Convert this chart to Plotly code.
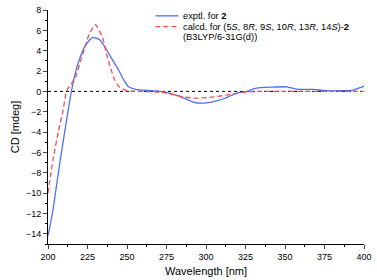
import plotly.graph_objects as go

exp_x = [200, 203, 206, 209, 212, 214.8, 217, 220, 224, 228.3, 232.5, 235, 238.7, 242, 245, 248, 251, 255.4, 260, 268, 275, 282.5, 288, 293, 297, 301, 306, 311.7, 316, 320, 326, 330, 334.6, 342, 351, 357.5, 363, 368, 376, 384.5, 393, 399, 400]
exp_y = [-14.2, -11.8, -8.6, -5.5, -2.6, 0.0, 1.6, 3.2, 4.6, 5.3, 5.1, 4.6, 3.65, 2.8, 2.0, 1.1, 0.45, 0.2, 0.12, 0.05, -0.1, -0.45, -0.8, -1.1, -1.15, -1.1, -0.95, -0.7, -0.4, -0.15, 0.0, 0.25, 0.38, 0.42, 0.45, 0.22, 0.2, 0.19, 0.07, 0.07, 0.13, 0.45, 0.5]

calc_x = [200, 203.3, 206.5, 209.6, 211.7, 214, 217, 222, 226, 230, 234.6, 237, 239.8, 242, 245, 250.2, 257.5, 265, 272, 280.4, 286, 293, 301, 307, 313.75, 319, 324, 330, 340, 350, 360, 370, 380, 390, 400]
calc_y = [-10.0, -6.6, -4.0, -1.8, 0.0, 0.6, 1.25, 3.65, 5.6, 6.55, 5.25, 3.7, 2.2, 1.2, 0.45, 0.05, 0.0, -0.02, -0.1, -0.35, -0.55, -0.67, -0.6, -0.5, -0.35, -0.2, -0.1, -0.02, 0.0, 0.0, 0.0, 0.0, 0.0, 0.0, 0.0]

x_ticks = [200, 225, 250, 275, 300, 325, 350, 375, 400]
y_ticks = [-14, -12, -10, -8, -6, -4, -2, 0, 2, 4, 6, 8]

legend_texts = ["exptl. for <b>2</b>",
                "calcd. for (5<i>S</i>, 8<i>R</i>, 9<i>S</i>, 10<i>R</i>, 13<i>R</i>, 14<i>S</i>)-<b>2</b>",
                "(B3LYP/6-31G(d))"]

BLUE = "#4f6ff5"
RED = "#f05050"
DASH = "5px,3px"

fig = go.Figure()
fig.add_trace(go.Scatter(x=[200, 400], y=[0, 0], mode="lines",
                         line=dict(color="black", width=1, dash="dot"),
                         showlegend=False, hoverinfo="skip"))
fig.add_trace(go.Scatter(x=exp_x, y=exp_y, mode="lines", showlegend=False,
                         line=dict(color=BLUE, width=1.3, shape="spline", smoothing=0.6)))
fig.add_trace(go.Scatter(x=calc_x, y=calc_y, mode="lines", showlegend=False,
                         line=dict(color=RED, width=1.3, dash=DASH, shape="spline", smoothing=0.6)))

# legend drawn manually (tight spacing as in reference)
fig.add_shape(type="line", xref="paper", yref="paper", x0=0.34, x1=0.4125, y0=0.975, y1=0.975,
              line=dict(color=BLUE, width=1.3))
fig.add_shape(type="line", xref="paper", yref="paper", x0=0.34, x1=0.4125, y0=0.929, y1=0.929,
              line=dict(color=RED, width=1.3, dash=DASH))
for txt, yp in zip(legend_texts, [0.975, 0.929, 0.883]):
    fig.add_annotation(text=txt, xref="paper", yref="paper", x=0.421, y=yp,
                       xanchor="left", yanchor="middle", showarrow=False,
                       font=dict(size=9.3), align="left")

fig.update_layout(
    width=377, height=280,
    margin=dict(l=48, r=9, t=5, b=36),
    paper_bgcolor="white", plot_bgcolor="white",
    font=dict(family="Liberation Sans, Arial, sans-serif", size=9, color="black"),
    showlegend=False,
    xaxis=dict(range=[200, 400], tickvals=x_ticks, ticks="outside", ticklen=4,
               showline=True, linecolor="black", linewidth=1, showgrid=False, zeroline=False,
               minor=dict(ticks="outside", ticklen=2, dtick=12.5, tick0=200, tickcolor="black"),
               title=dict(text="Wavelength [nm]", font=dict(size=11), standoff=6),
               tickfont=dict(size=9)),
    yaxis=dict(range=[-15, 8], tickvals=y_ticks, ticks="outside", ticklen=4,
               showline=True, linecolor="black", linewidth=1, showgrid=False, zeroline=False,
               minor=dict(ticks="outside", ticklen=2, dtick=1, tick0=0, tickcolor="black"),
               title=dict(text="CD [mdeg]", font=dict(size=11), standoff=4),
               tickfont=dict(size=9)),
)

fig.write_html("out.html", config={"displayModeBar": False},
               post_script="document.body.style.margin='0';")
